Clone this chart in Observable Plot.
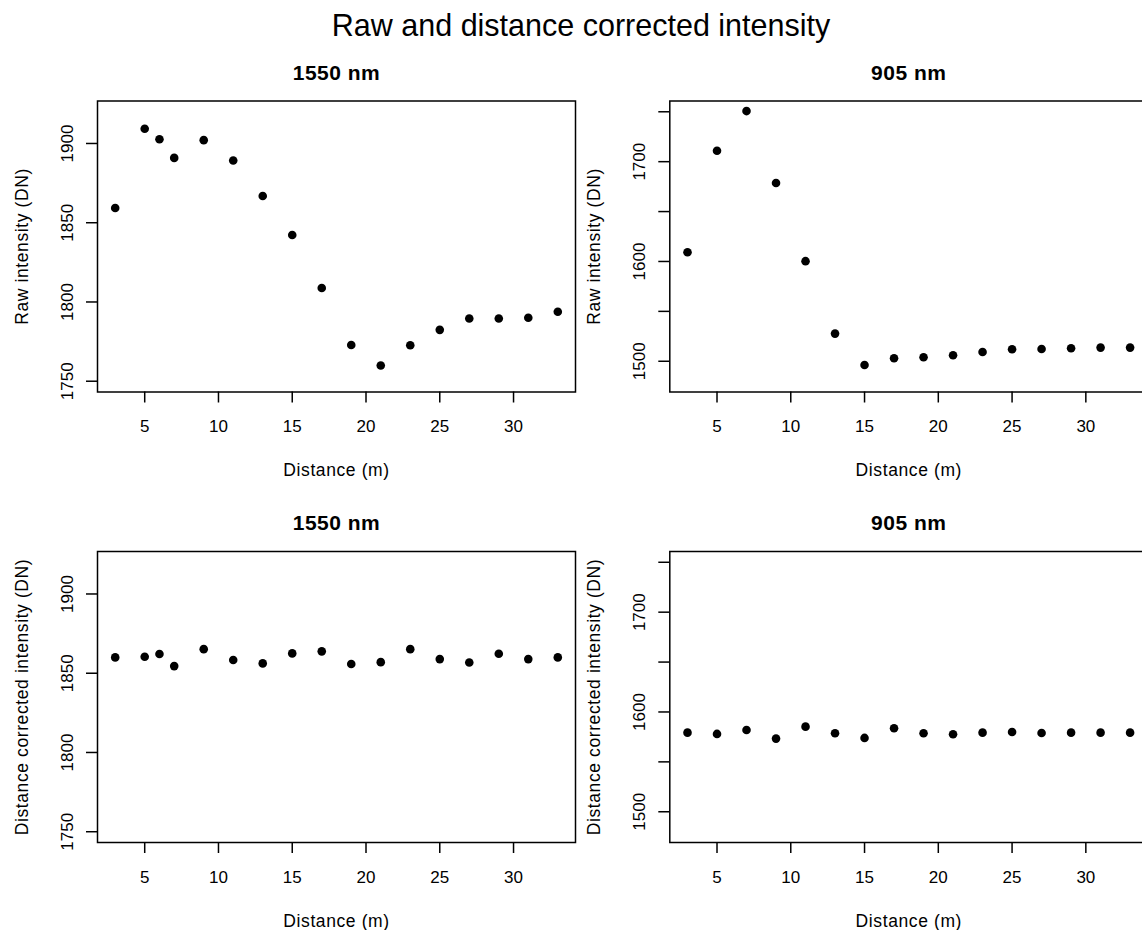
<!DOCTYPE html>
<html>
<head>
<meta charset="utf-8">
<script src="https://cdn.jsdelivr.net/npm/d3@7"></script>
<script src="https://cdn.jsdelivr.net/npm/@observablehq/plot@0.6"></script>
<style>
  html, body { margin: 0; padding: 0; background: #fff; overflow: hidden; }
  #wrap { position: relative; width: 1142px; height: 930px; overflow: hidden; background: #fff;
          font-family: "Liberation Sans", Arial, Helvetica, sans-serif; }
  #title { position: absolute; left: 0; top: 9.5px; width: 1162px; text-align: center;
           font-size: 30.5px; line-height: 30.5px; color: #000; white-space: nowrap; }
  .panel { position: absolute; }
</style>
</head>
<body>
<div id="wrap">
  <div id="title">Raw and distance corrected intensity</div>
</div>
<script>
// ---- Data ----
const distance1550 = [3, 5, 6, 7, 9, 11, 13, 15, 17, 19, 21, 23, 25, 27, 29, 31, 33];
const raw1550 = [1859.3, 1909.3, 1902.7, 1890.9, 1902.1, 1889.3, 1866.9, 1842.3, 1808.8, 1772.9, 1759.9, 1772.7, 1782.4, 1789.6, 1789.6, 1790.0, 1793.8];
const corrected1550 = [1860.0, 1860.4, 1862.1, 1854.5, 1865.2, 1858.3, 1856.2, 1862.5, 1863.8, 1855.8, 1857.0, 1865.2, 1858.9, 1856.8, 1862.3, 1858.9, 1860.0];

const distance905 = [3, 5, 7, 9, 11, 13, 15, 17, 19, 21, 23, 25, 27, 29, 31, 33];
const raw905 = [1609.3, 1711.0, 1750.7, 1678.7, 1600.3, 1527.7, 1496.3, 1503.0, 1504.0, 1506.0, 1509.3, 1512.0, 1512.3, 1513.0, 1513.7, 1513.7];
const corrected905 = [1579.3, 1578.0, 1582.0, 1573.3, 1585.3, 1578.7, 1574.0, 1583.7, 1578.7, 1577.7, 1579.3, 1580.0, 1579.0, 1579.3, 1579.3, 1579.3];

// axis ticks and labels
const xTicks = [5, 10, 15, 20, 25, 30];
const yTicks1550 = [1750, 1800, 1850, 1900];
const yTickLabels1550 = ["1750", "1800", "1850", "1900"];
const yTicks905 = [1500, 1550, 1600, 1650, 1700, 1750];
const yTickLabels905 = ["1500", "", "1600", "", "1700", ""];

// axis limits (R style, ylim padded by 4%)
const xLimits = [1.8, 34.2];
const yLimits1550 = [1743.2, 1926.8];
const yLimits905 = [1469.2, 1760.8];

const panelTitles = ["1550 nm", "905 nm"];
const xTitle = "Distance (m)";
const yTitleRaw = "Raw intensity (DN)";
const yTitleCorrected = "Distance corrected intensity (DN)";

// ---- Drawing ----
const FONT = '"Liberation Sans", Arial, Helvetica, sans-serif';

function makePanel({x, y, title, yTitle, yDomain, yTicks, yTickLabels, layout}) {
  const data = x.map((d, i) => ({d, v: y[i]}));
  const labelMap = new Map(yTicks.map((t, i) => [t, yTickLabels[i]]));
  const svg = Plot.plot({
    width: layout.width,
    height: layout.height,
    marginLeft: layout.ml,
    marginRight: layout.mr,
    marginTop: layout.mt,
    marginBottom: layout.mb,
    style: {background: "transparent", fontFamily: FONT, color: "#000", overflow: "visible", maxWidth: "none"},
    x: {domain: xLimits},
    y: {domain: yDomain},
    marks: [
      Plot.frame({stroke: "#000", strokeWidth: 1.5}),
      Plot.axisX(xTicks, {tickSize: 11, tickPadding: 17, fontSize: 17, strokeWidth: 1.5, label: null, tickFormat: d => String(d)}),
      Plot.axisY(yTicks, {tickSize: 11, tickPadding: 14, tickRotate: -90, fontSize: 17, strokeWidth: 1.5, label: null, tickFormat: d => labelMap.get(d)}),
      Plot.dot(data, {x: "d", y: "v", r: 4.3, fill: "#000", stroke: "none"}),
      Plot.text([title], {frameAnchor: "top", dy: -21.5, lineAnchor: "bottom", fontSize: 21, fontWeight: "bold", fill: "#000"}),
      Plot.text([xTitle], {frameAnchor: "bottom", dy: 84, lineAnchor: "bottom", textAnchor: "middle", fontSize: 17.5, fill: "#000"}),
      Plot.text([yTitle], {frameAnchor: "left", dx: -70, rotate: -90, lineAnchor: "bottom", textAnchor: "middle", fontSize: 17.5, fill: "#000"})
    ]
  });
  // R's text renders slightly wider: add a little letter spacing to titles
  svg.querySelectorAll("text").forEach(t => {
    const s = t.textContent;
    if (s === xTitle || s === yTitle) t.style.letterSpacing = "0.6px";
    if (s === title) t.style.letterSpacing = "0.5px";
  });
  const holder = document.createElement("div");
  holder.className = "panel";
  holder.style.left = layout.left + "px";
  holder.style.top = layout.top + "px";
  holder.style.width = layout.width + "px";
  holder.style.height = layout.height + "px";
  holder.appendChild(svg);
  document.getElementById("wrap").appendChild(holder);
}

const leftCol = {left: 0, width: 580, ml: 97, mr: 5};
const rightCol = {left: 580, width: 568, ml: 89.3, mr: 0.7};
const topRow = {top: 0, height: 485, mt: 100.5, mb: 93.5};
const bottomRow = {top: 485, height: 445, mt: 66, mb: 88};

makePanel({x: distance1550, y: raw1550, title: panelTitles[0], yTitle: yTitleRaw,
  yDomain: yLimits1550, yTicks: yTicks1550, yTickLabels: yTickLabels1550, layout: {...leftCol, ...topRow}});
makePanel({x: distance905, y: raw905, title: panelTitles[1], yTitle: yTitleRaw,
  yDomain: yLimits905, yTicks: yTicks905, yTickLabels: yTickLabels905, layout: {...rightCol, ...topRow}});
makePanel({x: distance1550, y: corrected1550, title: panelTitles[0], yTitle: yTitleCorrected,
  yDomain: yLimits1550, yTicks: yTicks1550, yTickLabels: yTickLabels1550, layout: {...leftCol, ...bottomRow}});
makePanel({x: distance905, y: corrected905, title: panelTitles[1], yTitle: yTitleCorrected,
  yDomain: yLimits905, yTicks: yTicks905, yTickLabels: yTickLabels905, layout: {...rightCol, ...bottomRow}});
</script>
</body>
</html>
